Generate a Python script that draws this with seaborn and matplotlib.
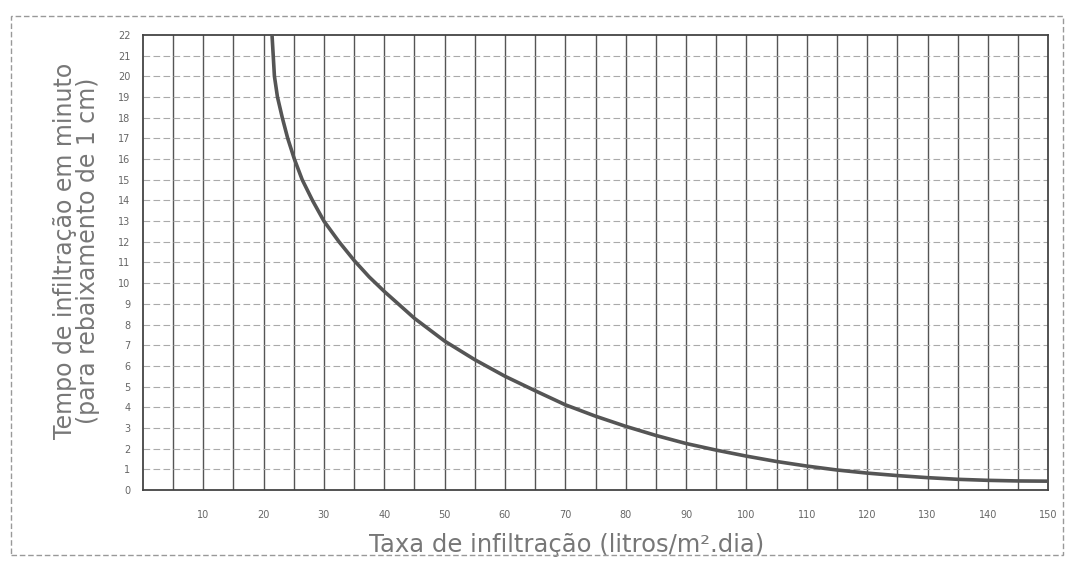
import numpy as np
import pandas as pd
import seaborn as sns
import matplotlib.pyplot as plt
from matplotlib.ticker import MultipleLocator, FuncFormatter
from matplotlib.patches import Rectangle

# Curve (taxa vs tempo)
taxa = [21.4, 21.6, 21.8, 22.3, 23.1, 24.0, 25.1, 26.4, 28.1, 30, 32.5, 35, 37.5, 40, 45, 50, 55, 60,
        65, 70, 75, 80, 85, 90, 95, 100, 105, 110, 115, 120, 125, 130, 135, 140, 145, 150]
tempo = [22, 21, 20, 19, 18, 17, 16, 15, 14, 13, 12.0, 11.1, 10.3, 9.6, 8.3, 7.2, 6.3, 5.5,
         4.8, 4.12, 3.57, 3.08, 2.64, 2.25, 1.93, 1.64, 1.38, 1.16, 0.97, 0.82, 0.7, 0.6, 0.52, 0.47, 0.44, 0.43]

x_label = "Taxa de infiltração (litros/m².dia)"
y_label = "Tempo de infiltração em minuto\n(para rebaixamento de 1 cm)"

df = pd.DataFrame({"taxa": taxa, "tempo": tempo})

sns.set_style("white")
fig = plt.figure(figsize=(10.74, 5.62), dpi=100)
ax = fig.add_axes([0.133, 0.128, 0.843, 0.81])

# grid: dark verticals every 5, light dashed horizontals every 1
for v in range(5, 150, 5):
    ax.axvline(v, color="#555555", lw=1.0, zorder=1)
for h in range(1, 22):
    ax.axhline(h, color="#aaaaaa", lw=0.8, ls=(0, (6, 3)), zorder=1)

sns.lineplot(data=df, x="taxa", y="tempo", ax=ax, color="#555555", lw=2.6, sort=False, zorder=3)

ax.set_xlim(0, 150)
ax.set_ylim(0, 22)
ax.xaxis.set_major_locator(MultipleLocator(5))
ax.xaxis.set_major_formatter(FuncFormatter(lambda v, p: "%d" % v if v % 10 == 0 and v > 0 else ""))
ax.yaxis.set_major_locator(MultipleLocator(1))
ax.yaxis.set_minor_locator(MultipleLocator(0.5))
ax.tick_params(axis="x", length=0, pad=14, labelsize=7, labelcolor="#666666")
ax.tick_params(axis="y", which="major", length=6, width=1, direction="inout", pad=6,
               labelsize=7, labelcolor="#666666", color="#555555")
ax.tick_params(axis="y", which="minor", length=4, width=0.8, direction="inout", color="#555555")
for s in ax.spines.values():
    s.set_color("#444444")
    s.set_linewidth(1.3)

ax.set_xlabel(x_label, fontsize=17.5, color="#777777")
ax.xaxis.set_label_coords(0.468, -0.095)
ax.set_ylabel(y_label, fontsize=17, color="#777777", linespacing=0.95)
ax.yaxis.set_label_coords(-0.047, 0.525)

# scanned page frame
fig.patches.append(Rectangle((0.01, 0.012), 0.98, 0.96, transform=fig.transFigure,
                             fill=False, ec="#999999", lw=1.0, ls=(0, (4, 2))))

fig.savefig("out.png", dpi=100)
